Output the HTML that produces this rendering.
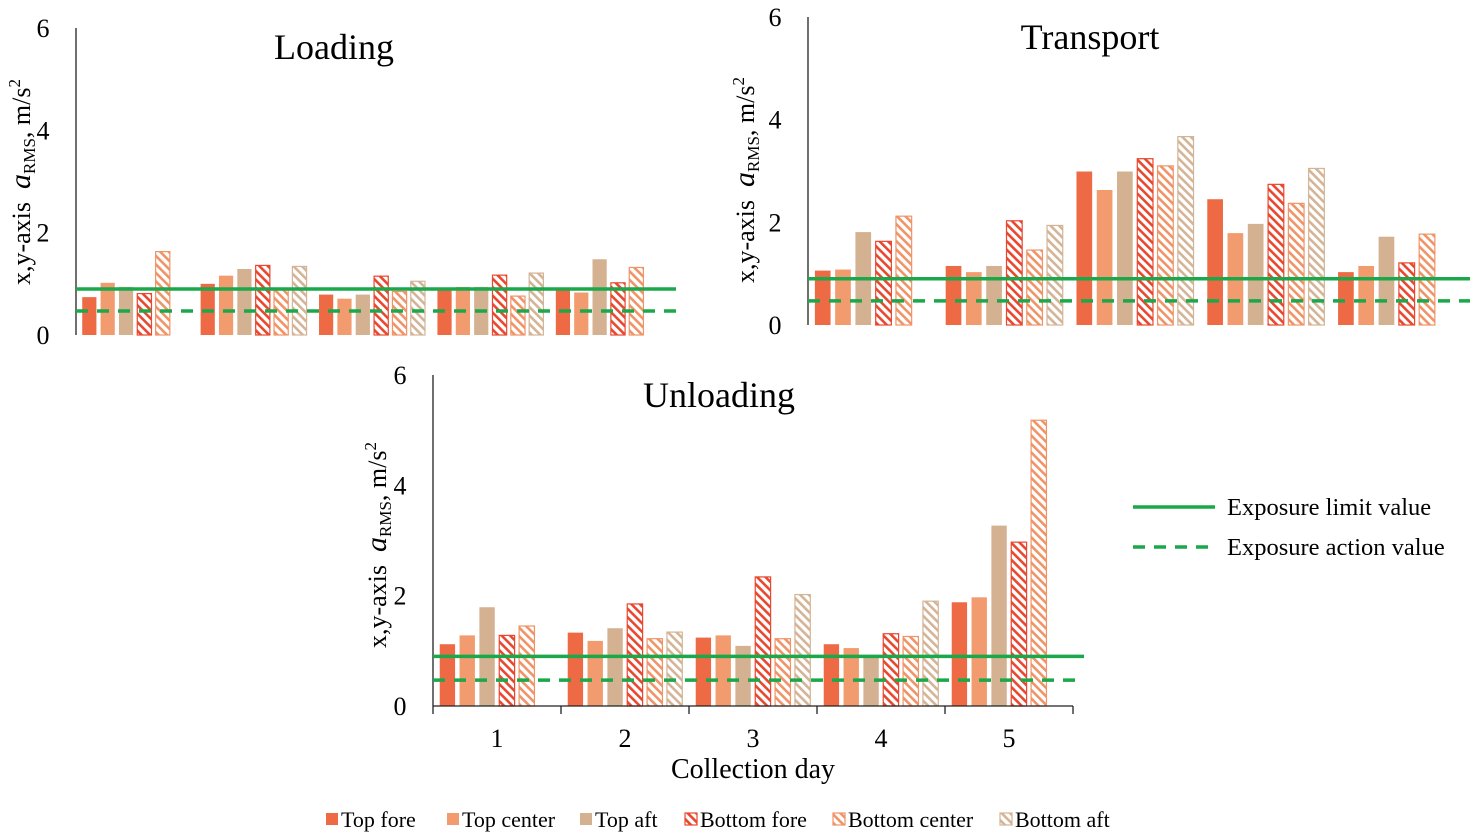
<!DOCTYPE html>
<html><head><meta charset="utf-8">
<style>
html,body{margin:0;padding:0;background:#fff;}
svg{display:block;font-family:"Liberation Serif",serif;}
</style></head>
<body>
<svg id="chart" width="1476" height="837" viewBox="0 0 1476 837" xmlns="http://www.w3.org/2000/svg">
<defs>
<pattern id="hBF" patternUnits="userSpaceOnUse" width="6" height="6" patternTransform="rotate(-45)"><rect width="6" height="6" fill="#fff"/><rect width="2.6" height="6" fill="#E8482F"/></pattern>
<pattern id="hBC" patternUnits="userSpaceOnUse" width="6" height="6" patternTransform="rotate(-45)"><rect width="6" height="6" fill="#fff"/><rect width="2.6" height="6" fill="#F09468"/></pattern>
<pattern id="hBA" patternUnits="userSpaceOnUse" width="6" height="6" patternTransform="rotate(-45)"><rect width="6" height="6" fill="#fff"/><rect width="2.6" height="6" fill="#D4B496"/></pattern>
</defs>
<g id="panels"></g>
<g>
<line x1="1133" y1="507" x2="1215" y2="507" stroke="#1AA84A" stroke-width="3.5"/>
<text x="1227" y="515" font-size="24.5">Exposure limit value</text>
<line x1="1133" y1="547" x2="1215" y2="547" stroke="#1AA84A" stroke-width="3.5" stroke-dasharray="12,9"/>
<text x="1227" y="555" font-size="24.5">Exposure action value</text>
</g>
<g id="legend"></g>
</svg>
<script>
const seriesNames = ["Top fore","Top center","Top aft","Bottom fore","Bottom center","Bottom aft"];
const days = ["1","2","3","4","5"];
const yTicks = [0,2,4,6];
const limitValue = 0.9;
const actionValue = 0.47;
// values by day, each: [TF, TC, TA, BF, BC, BA]
const loadingValues = [
 [0.74,1.02,0.94,0.81,1.63,null],
 [1.00,1.16,1.29,1.36,0.89,1.34],
 [0.79,0.71,0.79,1.15,0.85,1.05],
 [0.89,0.94,0.94,1.17,0.76,1.21],
 [0.89,0.83,1.48,1.02,1.32,null]
];
const transportValues = [
 [1.06,1.08,1.81,1.63,2.12,null],
 [1.15,1.03,1.15,2.03,1.46,1.94],
 [2.99,2.63,2.99,3.24,3.10,3.67],
 [2.45,1.79,1.97,2.74,2.37,3.05],
 [1.03,1.15,1.72,1.21,1.77,null]
];
const unloadingValues = [
 [1.12,1.28,1.79,1.28,1.45,null],
 [1.33,1.18,1.41,1.85,1.22,1.34],
 [1.24,1.28,1.09,2.34,1.22,2.02],
 [1.12,1.05,0.90,1.31,1.26,1.90],
 [1.88,1.97,3.27,2.97,5.18,null]
];

const fills = ["#EE6A45","#F29B6E","#D4B190","url(#hBF)","url(#hBC)","url(#hBA)"];
const strokes = ["none","none","none","#E8482F","#F09468","#D4B496"];
const NS = "http://www.w3.org/2000/svg";
function mk(tag, attrs, parent){const e=document.createElementNS(NS,tag);for(const k in attrs)e.setAttribute(k,attrs[k]);parent.appendChild(e);return e;}

function drawPanel(p){
  const root=document.getElementById('panels');
  const g=mk('g',{},root);
  
  
  const y=v=>p.y0-(v/6)*(p.y0-p.y6);
  const band=(p.x1-p.x0)/days.length;
  const x=i=>p.x0+i*band;
  const ax=mk('line',{x1:p.x0,y1:p.y6,x2:p.x0,y2:p.y0,stroke:'#222','stroke-width':1.3},g);
  
  
  yTicks.forEach(t=>{
    const tx=mk('text',{x:p.x0-33,y:y(t)+9,'font-size':26,'text-anchor':'middle'},g);
    tx.textContent=t;
    
    
  });
  const pitch=band*0.155, bw=band*0.12;
  const off=(band-pitch*6)/2+(pitch-bw)/2;
  p.values.forEach((row,di)=>{
    row.forEach((v,si)=>{
      if(v==null)return;
      const r=mk('rect',{x:x(di)+off+si*pitch,y:y(v),width:bw,height:y(0)-y(v),fill:fills[si]},g);
      if(strokes[si]!=='none'){r.setAttribute('stroke',strokes[si]);r.setAttribute('stroke-width',1.2);}
      
      
    });
  });
  const l1=mk('line',{x1:p.x0,x2:p.lineEnd,y1:y(limitValue),y2:y(limitValue),stroke:'#1AA84A','stroke-width':3.5},g);
  
  
  const l2=mk('line',{x1:p.x0,x2:p.lineEnd,y1:y(actionValue),y2:y(actionValue),stroke:'#1AA84A','stroke-width':3.5,'stroke-dasharray':'12,9'},g);
  
  
  const t=mk('text',{x:p.titleX,y:p.titleY,'font-size':36,'text-anchor':'middle'},g);
  t.textContent=p.title;
  
  
  const yt=mk('text',{x:0,y:0,'font-size':26,'text-anchor':'middle',transform:'translate('+p.ytX+','+p.ytY+') rotate(-90)'},g);
  yt.innerHTML='x,y-axis&#160;&#160;<tspan font-style="italic" font-size="30">a</tspan><tspan font-size="17" dy="5">RMS</tspan><tspan dy="-5">, m/s</tspan><tspan font-size="17" dy="-10">2</tspan>';
  
  
  if(p.xAxis){
    const xa=mk('line',{x1:p.x0,x2:p.x1,y1:p.y0,y2:p.y0,stroke:'#222','stroke-width':1.3},g);
    
    
    for(let i=0;i<=days.length;i++){
      const tk=mk('line',{x1:x(i),x2:x(i),y1:p.y0,y2:p.y0+8,stroke:'#222','stroke-width':1.3},g);
      
      
    }
    days.forEach((d,i)=>{
      const dl=mk('text',{x:x(i)+band/2,y:p.y0+41,'font-size':26,'text-anchor':'middle'},g);
      dl.textContent=d;
      
      
    });
    const xt=mk('text',{x:(p.x0+p.x1)/2,y:p.y0+72,'font-size':28,'text-anchor':'middle'},g);
    xt.textContent='Collection day';
    
    
  }
}

drawPanel({name:'loading',title:'Loading',values:loadingValues,x0:76,x1:668,lineEnd:676,y0:335,y6:28,titleX:334,titleY:59,ytX:30,ytY:182,xAxis:false});
drawPanel({name:'transport',title:'Transport',values:transportValues,x0:808,x1:1462,lineEnd:1470,y0:325,y6:17,titleX:1090,titleY:49,ytX:754,ytY:180,xAxis:false});
drawPanel({name:'unloading',title:'Unloading',values:unloadingValues,x0:433,x1:1073,lineEnd:1084,y0:706,y6:375,titleX:719,titleY:407,ytX:386,ytY:545,xAxis:true});

const legX=[326,447,580,685,833,1000];
const lg=document.getElementById('legend');
seriesNames.forEach((n,i)=>{
  const s=mk('rect',{x:legX[i],y:813,width:12,height:12,fill:fills[i]},lg);
  if(strokes[i]!=='none'){s.setAttribute('stroke',strokes[i]);s.setAttribute('stroke-width',1.2);}
  
  
  const t=mk('text',{x:legX[i]+15,y:827,'font-size':22},lg);
  t.textContent=n;
  
  
});
</script>
</body></html>
